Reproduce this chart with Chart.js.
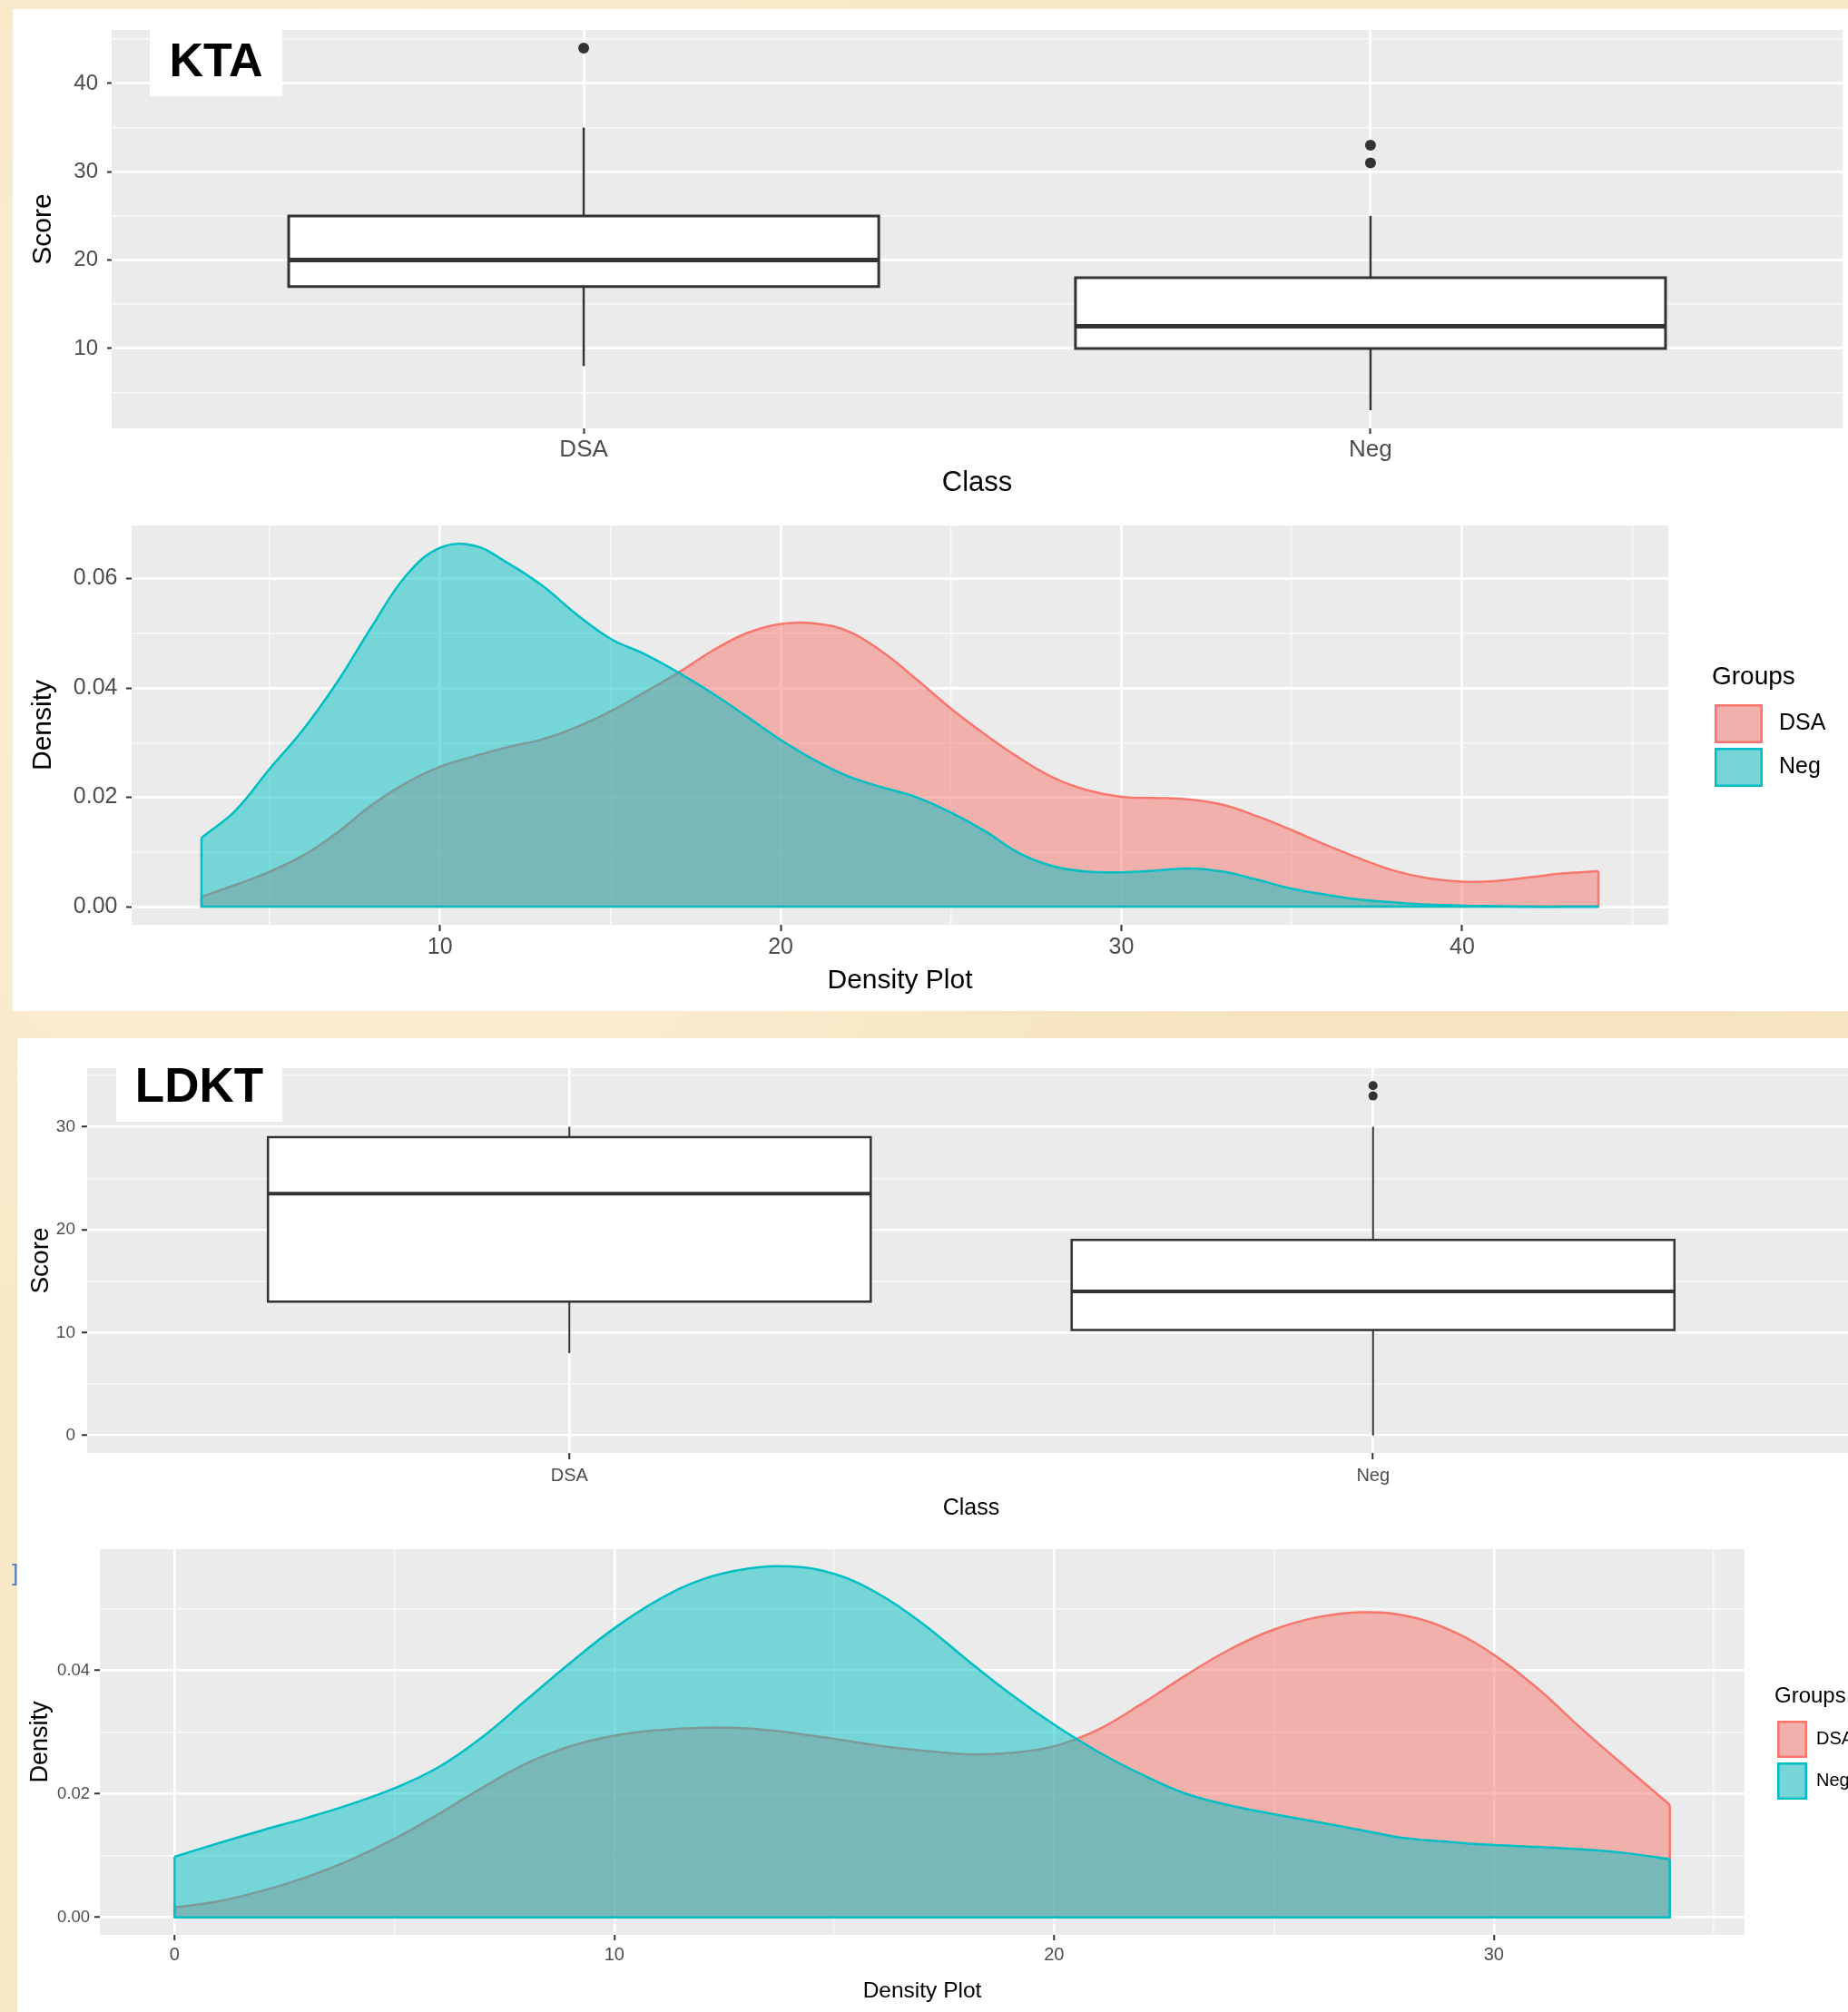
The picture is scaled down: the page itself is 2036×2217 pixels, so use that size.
<!DOCTYPE html>
<html>
<head>
<meta charset="utf-8">
<title>KTA / LDKT score boxplots and density plots</title>
<script src="https://cdn.jsdelivr.net/npm/chart.js@4.4.1/dist/chart.umd.min.js"></script>
<style>
  html { margin:0; padding:0; overflow:hidden; }
  body { margin:0; padding:0; width:2036px; height:2217px; position:relative; overflow:hidden;
         background:#f8e8c7;
         background-image: radial-gradient(circle at 20% 30%, rgba(255,246,228,0.6) 0, rgba(255,246,228,0) 40%),
                           radial-gradient(circle at 80% 70%, rgba(240,216,172,0.45) 0, rgba(240,216,172,0) 45%);
         font-family:'Liberation Sans', Arial, sans-serif; }
  .panel { position:absolute; background:#ffffff; }
  canvas { position:absolute; }
  .tag { position:absolute; background:#ffffff; }
  .tag span { position:absolute; left:0; width:100%; text-align:center; font-weight:bold; color:#000;
              white-space:nowrap; font-family:'Liberation Sans', Arial, sans-serif; }
  .mark { position:absolute; color:#4a80c4; font:26px 'Liberation Sans', Arial, sans-serif; line-height:26px; }
</style>
</head>
<body>
<div class="panel" style="left:14px;top:10px;width:2022px;height:1104px"></div>
<div class="panel" style="left:19px;top:1144px;width:2017px;height:1073px"></div>

<canvas id="ktaBox" width="2022" height="540" style="left:14px;top:10px"></canvas>
<canvas id="ktaDens" width="2022" height="564" style="left:14px;top:550px"></canvas>
<canvas id="ldktBox" width="2030" height="546" style="left:19px;top:1144px"></canvas>
<canvas id="ldktDens" width="2017" height="527" style="left:19px;top:1690px"></canvas>

<div class="tag" style="left:165px;top:20px;width:146px;height:86px"><span style="top:20px;font-size:52px;line-height:52px">KTA</span></div>
<div class="tag" style="left:128px;top:1158px;width:183px;height:78px"><span style="top:11px;font-size:53px;line-height:53px">LDKT</span></div>
<div class="mark" style="left:13px;top:1720px">]</div>

<script>
// ================= DATA =================
const classes = ['DSA', 'Neg'];
const groups = ['DSA', 'Neg'];

// KTA boxplot statistics (Score by Class)
const ktaLower    = [8, 3];
const ktaQ1       = [17, 10];
const ktaMedian   = [20, 12.5];
const ktaQ3       = [25, 18];
const ktaUpper    = [35, 25];
const ktaOutliers = [[44], [33, 31]];

// LDKT boxplot statistics (Score by Class)
const ldktLower    = [8, 0];
const ldktQ1       = [13, 10.25];
const ldktMedian   = [23.5, 14];
const ldktQ3       = [29, 19];
const ldktUpper    = [30, 30];
const ldktOutliers = [[], [34, 33]];

// KTA density estimates
const ktaX = [3, 4, 5, 6, 7, 8, 9, 10, 11, 12, 13, 14, 15, 16, 17, 18, 19, 20, 21, 22, 23, 24,
              25, 26, 27, 28, 29, 30, 31, 32, 33, 34, 35, 36, 37, 38, 39, 40, 41, 42, 43, 44];
const ktaDensityDSA = [0.0018, 0.0040, 0.0064, 0.0094, 0.0136, 0.0186, 0.0226, 0.0256, 0.0275, 0.0292,
                       0.0306, 0.0328, 0.0357, 0.0392, 0.0428, 0.0468, 0.0500, 0.0517, 0.0518, 0.0503,
                       0.0465, 0.0415, 0.0362, 0.0315, 0.0272, 0.0236, 0.0213, 0.0201, 0.0199, 0.0196,
                       0.0186, 0.0165, 0.0140, 0.0113, 0.0088, 0.0066, 0.0052, 0.0046, 0.0047, 0.0054,
                       0.0061, 0.0065];
const ktaDensityNeg = [0.0126, 0.0176, 0.0252, 0.0325, 0.0412, 0.0512, 0.0605, 0.0656, 0.0660, 0.0628,
                       0.0587, 0.0535, 0.0490, 0.0462, 0.0428, 0.0390, 0.0348, 0.0305, 0.0268, 0.0238,
                       0.0218, 0.0200, 0.0172, 0.0138, 0.0098, 0.0074, 0.0064, 0.0063, 0.0066, 0.0070,
                       0.0064, 0.0049, 0.0033, 0.0022, 0.0013, 0.0008, 0.0004, 0.0002, 0.0001, 0.0000,
                       0.0000, 0.0000];

// LDKT density estimates
const ldktX = [0, 1, 2, 3, 4, 5, 6, 7, 8, 9, 10, 11, 12, 13, 14, 15, 16, 17, 18, 19, 20, 21, 22, 23,
               24, 25, 26, 27, 28, 29, 30, 31, 32, 33, 34];
const ldktDensityDSA = [0.0016, 0.0026, 0.0043, 0.0065, 0.0093, 0.0127, 0.0167, 0.0210, 0.0249, 0.0277,
                        0.0294, 0.0303, 0.0307, 0.0306, 0.0299, 0.0289, 0.0278, 0.0270, 0.0264, 0.0266,
                        0.0277, 0.0304, 0.0346, 0.0392, 0.0434, 0.0466, 0.0486, 0.0494, 0.0488, 0.0465,
                        0.0425, 0.0370, 0.0305, 0.0243, 0.0182];
const ldktDensityNeg = [0.0098, 0.0120, 0.0141, 0.0161, 0.0183, 0.0209, 0.0243, 0.0292, 0.0352, 0.0412,
                        0.0468, 0.0514, 0.0547, 0.0564, 0.0568, 0.0556, 0.0524, 0.0476, 0.0418, 0.0362,
                        0.0312, 0.0268, 0.0231, 0.0200, 0.0181, 0.0167, 0.0154, 0.0141, 0.0128, 0.0122,
                        0.0117, 0.0114, 0.0110, 0.0104, 0.0094];

// Tick values
const ktaScoreTicks  = [5, 10, 15, 20, 25, 30, 35, 40, 45];
const ktaDensTicks   = [0, 0.01, 0.02, 0.03, 0.04, 0.05, 0.06];
const ktaXTicks      = [5, 10, 15, 20, 25, 30, 35, 40, 45];
const ldktScoreTicks = [0, 5, 10, 15, 20, 25, 30, 35];
const ldktDensTicks  = [0, 0.01, 0.02, 0.03, 0.04, 0.05];
const ldktXTicks     = [0, 5, 10, 15, 20, 25, 30, 35];
const classTicks     = [1, 2];

// Axis limits (ggplot-style 5% expansion of the data range)
const ktaScoreRange  = [0.95, 46.05];
const ktaDensRange   = [-0.0033, 0.0697];
const ktaXRange      = [0.95, 46.05];
const ldktScoreRange = [-1.7, 35.7];
const ldktDensRange  = [-0.00284, 0.0596];
const ldktXRange     = [-1.7, 35.7];
const ktaClassRange  = [0.4, 2.6];
const ldktClassRange = [0.4, 2.6];

// ================= STYLE =================
const FAMILY = "'Liberation Sans', Arial, sans-serif";
const TICK_COLOR = '#4D4D4D';
const LINE_COLORS = { DSA: '#F8766D', Neg: '#00BFC4' };
const FILL_COLORS = { DSA: 'rgba(248,118,109,0.5)', Neg: 'rgba(0,191,196,0.5)' };
const BOX_HALF = 0.375;

function near(v, step) { const r = v / step; return Math.abs(r - Math.round(r)) < 1e-6; }

function gridFor(majorStep, tl, majorW, minorW) {
  const maj = c => (c.tick ? near(c.tick.value, majorStep) : true);
  return {
    color: c => maj(c) ? '#FFFFFF' : '#F9F9F9',
    lineWidth: c => maj(c) ? majorW : minorW,
    drawTicks: true,
    tickLength: tl,
    tickWidth: 2,
    tickColor: c => maj(c) ? '#333333' : 'rgba(0,0,0,0)'
  };
}

function axis(cfg) {
  const left = cfg.position === 'left';
  return {
    type: 'linear',
    position: cfg.position,
    min: cfg.range[0],
    max: cfg.range[1],
    afterBuildTicks: s => { s.ticks = cfg.ticks.map(v => ({ value: v })); },
    afterFit: s => { if (left) s.width = cfg.size; else s.height = cfg.size; },
    grid: gridFor(cfg.majorStep, cfg.tl, cfg.majorW, cfg.minorW),
    border: { display: false },
    ticks: {
      autoSkip: false, maxRotation: 0, minRotation: 0,
      color: TICK_COLOR, padding: cfg.pad,
      font: { family: FAMILY, size: cfg.tickSize, lineHeight: 1 },
      callback: cfg.label
    },
    title: {
      display: true, text: cfg.title, color: '#000000',
      font: { family: FAMILY, size: cfg.titleSize, lineHeight: 1 },
      padding: left ? { top: cfg.titlePad, bottom: 0 } : { top: 0, bottom: cfg.titlePad }
    }
  };
}

// ================= DATASET BUILDERS =================
function densitySets(xs, series) {
  const sets = [];
  groups.forEach((g, gi) => {
    const ys = series[gi];
    const n = xs.length - 1;
    const base = (groups.length - gi) * 2;
    sets.push({
      label: g, legendKey: true,
      data: xs.map((x, i) => ({ x: x, y: ys[i] })),
      borderColor: LINE_COLORS[g], backgroundColor: FILL_COLORS[g],
      borderWidth: 2.5, pointRadius: 0, fill: 'origin',
      tension: 0.4, order: base
    });
    sets.push({
      label: g + ' outline',
      data: [{ x: xs[0], y: ys[0] }, { x: xs[0], y: 0 }, { x: xs[n], y: 0 }, { x: xs[n], y: ys[n] }],
      borderColor: LINE_COLORS[g], borderWidth: 2.5, pointRadius: 0, fill: false,
      tension: 0, order: base - 1
    });
  });
  return sets;
}

function boxSets(lower, q1, med, q3, upper, outliers, st) {
  const sets = [];
  classes.forEach((c, i) => {
    const x = i + 1;
    const h = BOX_HALF;
    const line = { borderColor: '#333333', pointRadius: 0, fill: false, tension: 0 };
    sets.push(Object.assign({ label: c + ' upper whisker', data: [{ x: x, y: q3[i] }, { x: x, y: upper[i] }], borderWidth: st.whisker, order: 5 }, line));
    sets.push(Object.assign({ label: c + ' lower whisker', data: [{ x: x, y: lower[i] }, { x: x, y: q1[i] }], borderWidth: st.whisker, order: 5 }, line));
    sets.push({
      label: c + ' box',
      data: [{ x: x - h, y: q1[i] }, { x: x + h, y: q1[i] }, { x: x + h, y: q3[i] }, { x: x - h, y: q3[i] }, { x: x - h, y: q1[i] }],
      borderColor: '#333333', backgroundColor: '#FFFFFF', borderWidth: st.box,
      borderJoinStyle: 'miter', borderCapStyle: 'square',
      pointRadius: 0, fill: 'shape', tension: 0, order: 4
    });
    sets.push(Object.assign({ label: c + ' median', data: [{ x: x - h, y: med[i] }, { x: x + h, y: med[i] }], borderWidth: st.median, order: 3 }, line));
    if (outliers[i].length) {
      sets.push({
        label: c + ' outliers',
        data: outliers[i].map(v => ({ x: x, y: v })),
        showLine: false, pointRadius: st.point, pointHoverRadius: st.point,
        pointBackgroundColor: '#333333', pointBorderColor: '#333333', pointBorderWidth: 0,
        order: 2
      });
    }
  });
  return sets;
}

// ================= PLUGINS =================
const panelBg = {
  id: 'panelBg',
  beforeDraw(chart) {
    const { ctx, chartArea: a } = chart;
    ctx.save();
    ctx.fillStyle = '#EBEBEB';
    ctx.fillRect(a.left, a.top, a.right - a.left, a.bottom - a.top);
    ctx.restore();
  }
};

const ggLegend = {
  id: 'ggLegend',
  afterDraw(chart, args, o) {
    if (!o || !o.show) return;
    const { ctx, chartArea: a } = chart;
    const cy = (a.top + a.bottom) / 2;
    const x0 = a.right + o.dx;
    ctx.save();
    ctx.textAlign = 'left';
    ctx.fillStyle = '#000000';
    ctx.textBaseline = 'alphabetic';
    ctx.font = o.titleSize + 'px ' + FAMILY;
    ctx.fillText(o.title, x0 + o.titleDx, cy + o.titleBaseline);
    const items = chart.data.datasets.filter(d => d.legendKey);
    items.forEach((d, i) => {
      const ky = cy + o.keyTop + i * o.keyStep;
      ctx.fillStyle = '#EBEBEB';
      ctx.fillRect(x0, ky, o.keyW, o.keyH);
      ctx.fillStyle = d.backgroundColor;
      ctx.fillRect(x0, ky, o.keyW, o.keyH);
      ctx.strokeStyle = d.borderColor;
      ctx.lineWidth = o.keyLine;
      ctx.strokeRect(x0 + o.keyLine / 2, ky + o.keyLine / 2, o.keyW - o.keyLine, o.keyH - o.keyLine);
      ctx.fillStyle = '#000000';
      ctx.textBaseline = 'middle';
      ctx.font = o.labelSize + 'px ' + FAMILY;
      ctx.fillText(d.label, x0 + o.keyW + o.labelGap, ky + o.keyH / 2);
    });
    ctx.restore();
  }
};

function makeChart(id, datasets, xAxis, yAxis, padding, legend) {
  return new Chart(document.getElementById(id), {
    type: 'line',
    data: { datasets: datasets },
    options: {
      responsive: false, animation: false, devicePixelRatio: 1,
      layout: { padding: padding },
      events: [],
      plugins: { legend: { display: false }, tooltip: { enabled: false }, ggLegend: legend || { show: false } },
      scales: { x: xAxis, y: yAxis }
    },
    plugins: [panelBg, ggLegend]
  });
}

const classLabel = v => classes[Math.round(v) - 1] || '';
const majorInt = step => v => near(v, step) ? String(v) : '';
const majorDec = step => v => near(v, step) ? v.toFixed(2) : '';

// ---------- KTA boxplot ----------
makeChart('ktaBox',
  boxSets(ktaLower, ktaQ1, ktaMedian, ktaQ3, ktaUpper, ktaOutliers, { whisker: 2.5, box: 3, median: 5, point: 6 }),
  axis({ position: 'bottom', range: ktaClassRange, ticks: classTicks, majorStep: 1, tl: 6, pad: 5,
         tickSize: 26, label: classLabel, title: 'Class', titleSize: 31, titlePad: 2.5, size: 78,
         majorW: 3, minorW: 1.5 }),
  axis({ position: 'left', range: ktaScoreRange, ticks: ktaScoreTicks, majorStep: 10, tl: 5, pad: 10,
         tickSize: 24, label: majorInt(10), title: 'Score', titleSize: 30, titlePad: 19, size: 109,
         majorW: 3, minorW: 1.5 }),
  { left: 0, top: 23, right: 4, bottom: 0 });

// ---------- KTA density ----------
makeChart('ktaDens',
  densitySets(ktaX, [ktaDensityDSA, ktaDensityNeg]),
  axis({ position: 'bottom', range: ktaXRange, ticks: ktaXTicks, majorStep: 10, tl: 7, pad: 5.5,
         tickSize: 25, label: majorInt(10), title: 'Density Plot', titleSize: 30, titlePad: 18, size: 95,
         majorW: 3, minorW: 1.5 }),
  axis({ position: 'left', range: ktaDensRange, ticks: ktaDensTicks, majorStep: 0.02, tl: 6, pad: 9.5,
         tickSize: 25, label: majorDec(0.02), title: 'Density', titleSize: 30, titlePad: 19, size: 131,
         majorW: 3, minorW: 1.5 }),
  { left: 0, top: 29, right: 198, bottom: 0 },
  { show: true, title: 'Groups', titleSize: 28, labelSize: 25, dx: 51, titleDx: -3,
    titleBaseline: -45, keyTop: -23, keyStep: 48, keyW: 53, keyH: 43, keyLine: 2.5, labelGap: 18 });

// ---------- LDKT boxplot ----------
makeChart('ldktBox',
  boxSets(ldktLower, ldktQ1, ldktMedian, ldktQ3, ldktUpper, ldktOutliers, { whisker: 2, box: 2.5, median: 4, point: 5 }),
  axis({ position: 'bottom', range: ldktClassRange, ticks: classTicks, majorStep: 1, tl: 7, pad: 8,
         tickSize: 20, label: classLabel, title: 'Class', titleSize: 25, titlePad: 15.5, size: 89,
         majorW: 2.5, minorW: 1.5 }),
  axis({ position: 'left', range: ldktScoreRange, ticks: ldktScoreTicks, majorStep: 10, tl: 6, pad: 7,
         tickSize: 19, label: majorInt(10), title: 'Score', titleSize: 28, titlePad: 12, size: 77,
         majorW: 2.5, minorW: 1.5 }),
  { left: 0, top: 33, right: 0, bottom: 0 });

// ---------- LDKT density ----------
makeChart('ldktDens',
  densitySets(ldktX, [ldktDensityDSA, ldktDensityNeg]),
  axis({ position: 'bottom', range: ldktXRange, ticks: ldktXTicks, majorStep: 10, tl: 6, pad: 6,
         tickSize: 20, label: majorInt(10), title: 'Density Plot', titleSize: 24.5, titlePad: 10.75, size: 85,
         majorW: 2.5, minorW: 1.5 }),
  axis({ position: 'left', range: ldktDensRange, ticks: ldktDensTicks, majorStep: 0.02, tl: 6, pad: 5,
         tickSize: 18.5, label: majorDec(0.02), title: 'Density', titleSize: 27, titlePad: 12.5, size: 91,
         majorW: 2.5, minorW: 1.5 }),
  { left: 0, top: 17, right: 114, bottom: 0 },
  { show: true, title: 'Groups', titleSize: 24, labelSize: 20, dx: 36, titleDx: -3,
    titleBaseline: -43.5, keyTop: -23.5, keyStep: 46, keyW: 33, keyH: 41, keyLine: 2.5, labelGap: 10 });
</script>
</body>
</html>
